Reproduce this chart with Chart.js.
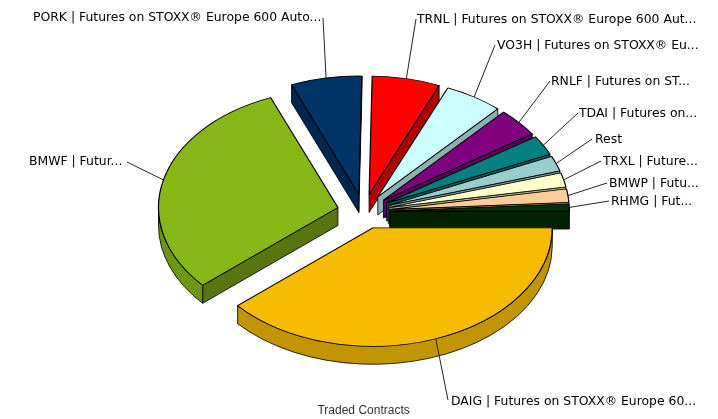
<!DOCTYPE html>
<html><head><meta charset="utf-8">
<style>html,body{margin:0;padding:0;background:#fff}canvas{display:block}</style>
<script src="https://cdn.jsdelivr.net/npm/chart.js@4"></script>
</head><body><canvas id="c" width="718" height="419"></canvas>
<script>
const labels = ["DAIG | Futures on STOXX® Europe 60...","BMWF | Futur...","PORK | Futures on STOXX® Europe 600 Auto...","TRNL | Futures on STOXX® Europe 600 Aut...","VO3H | Futures on STOXX® Eu...","RNLF | Futures on ST...","TDAI | Futures on...","Rest","TRXL | Future...","BMWP | Futu...","RHMG | Fut..."];
const tradedContracts = [38.6,30.3,6.39,6.11,5.28,3.89,2.67,2.06,1.94,1.81,0.97];
const topColors  = ["#F7BB00","#85B717","#003366","#FF0000","#CCFFFF","#800080","#008080","#99CCCC","#FFFFCC","#FFCC99","#003300"];
const wallColors = ["#C29400","#6E9612","#00264D","#B00000","#8CAFAF","#580058","#005858","#6E9494","#B0B08C","#B08C6A","#002200"];
const sideColors = ["#C29400","#587510","#00264D","#B00000","#8CAFAF","#580058","#005858","#6E9494","#B0B08C","#B08C6A","#002200"];
// label layout: text left x, text centre y, elbow x, elbow y
const labelLayout = [[451,402,448,400],[29,162,127,162],[33,18,323,18],[417,20,416,19],[497,46,495,45],[551,82,550,81],[579,114,578,113],[595,140,592,139],[603,162,601,161],[609,184,607,183],[611,202,609,201]];
const explode = 26.4, squash = 0.66, depth = 18;

const pie3d = {
  id:'pie3d',
  afterDatasetsUpdate(chart){
    chart.getDatasetMeta(0).data.forEach(a=>{
      const m=(a.startAngle+a.endAngle)/2;
      a.x+=Math.cos(m)*explode; a.y+=Math.sin(m)*explode;
    });
  },
  beforeDatasetDraw(chart){
    const ctx=chart.ctx, ca=chart.chartArea, cy=(ca.top+ca.bottom)/2;
    ctx.save();
    ctx.translate(0,cy); ctx.scale(1,squash); ctx.translate(0,-cy);
    const d=depth/squash;
    ctx.lineWidth=1; ctx.strokeStyle='#000'; ctx.lineJoin='bevel';
    chart.getDatasetMeta(0).data.forEach((a,i)=>{
      const R=a.outerRadius, s=a.startAngle, e=a.endAngle;
      const face=t=>{
        ctx.beginPath();
        ctx.moveTo(a.x,a.y);
        ctx.lineTo(a.x+R*Math.cos(t),a.y+R*Math.sin(t));
        ctx.lineTo(a.x+R*Math.cos(t),a.y+R*Math.sin(t)+d);
        ctx.lineTo(a.x,a.y+d);
        ctx.closePath();
        ctx.fillStyle=sideColors[i]; ctx.fill(); ctx.stroke();
      };
      if(Math.cos(s)<0) face(s);
      if(Math.cos(e)>0) face(e);
      const w0=Math.max(s,0), w1=Math.min(e,Math.PI);
      if(w1>w0){
        ctx.beginPath();
        ctx.arc(a.x,a.y,R,w0,w1);
        ctx.arc(a.x,a.y+d,R,w1,w0,true);
        ctx.closePath();
        ctx.fillStyle=wallColors[i]; ctx.fill(); ctx.stroke();
      }
    });
  },
  afterDatasetDraw(chart){ chart.ctx.restore(); },
  afterDraw(chart){
    const ctx=chart.ctx, ca=chart.chartArea, cy=(ca.top+ca.bottom)/2;
    ctx.save();
    ctx.font='12.4px "DejaVu Sans"'; ctx.textBaseline='middle'; ctx.textAlign='left';
    chart.getDatasetMeta(0).data.forEach((a,i)=>{
      const m=(a.startAngle+a.endAngle)/2, L=labelLayout[i];
      const px=a.x+a.outerRadius*Math.cos(m);
      const py=cy+(a.y+a.outerRadius*Math.sin(m)-cy)*squash;
      ctx.strokeStyle='#222'; ctx.lineWidth=1;
      ctx.beginPath(); ctx.moveTo(px,py); ctx.lineTo(L[2],L[3]); ctx.stroke();
      ctx.fillStyle='#000';
      ctx.fillText(labels[i],L[0],L[1]);
    });
    ctx.restore();
  }
};

new Chart(document.getElementById('c'),{
  type:'doughnut',
  data:{labels,datasets:[{label:'Traded Contracts',data:tradedContracts,backgroundColor:topColors,borderColor:'#000',borderWidth:1.2,clip:false}]},
  options:{
    responsive:false,animation:false,cutout:0,rotation:90,
    layout:{padding:{left:183.6,right:174.4,top:31.5,bottom:1}},
    plugins:{
      legend:{display:false},tooltip:{enabled:false},
      title:{display:true,text:'Traded Contracts',position:'bottom',color:'#333',font:{family:'"Liberation Sans"',size:12,weight:'normal'},padding:{top:12,bottom:0}}
    }
  },
  plugins:[pie3d]
});
</script></body></html>
